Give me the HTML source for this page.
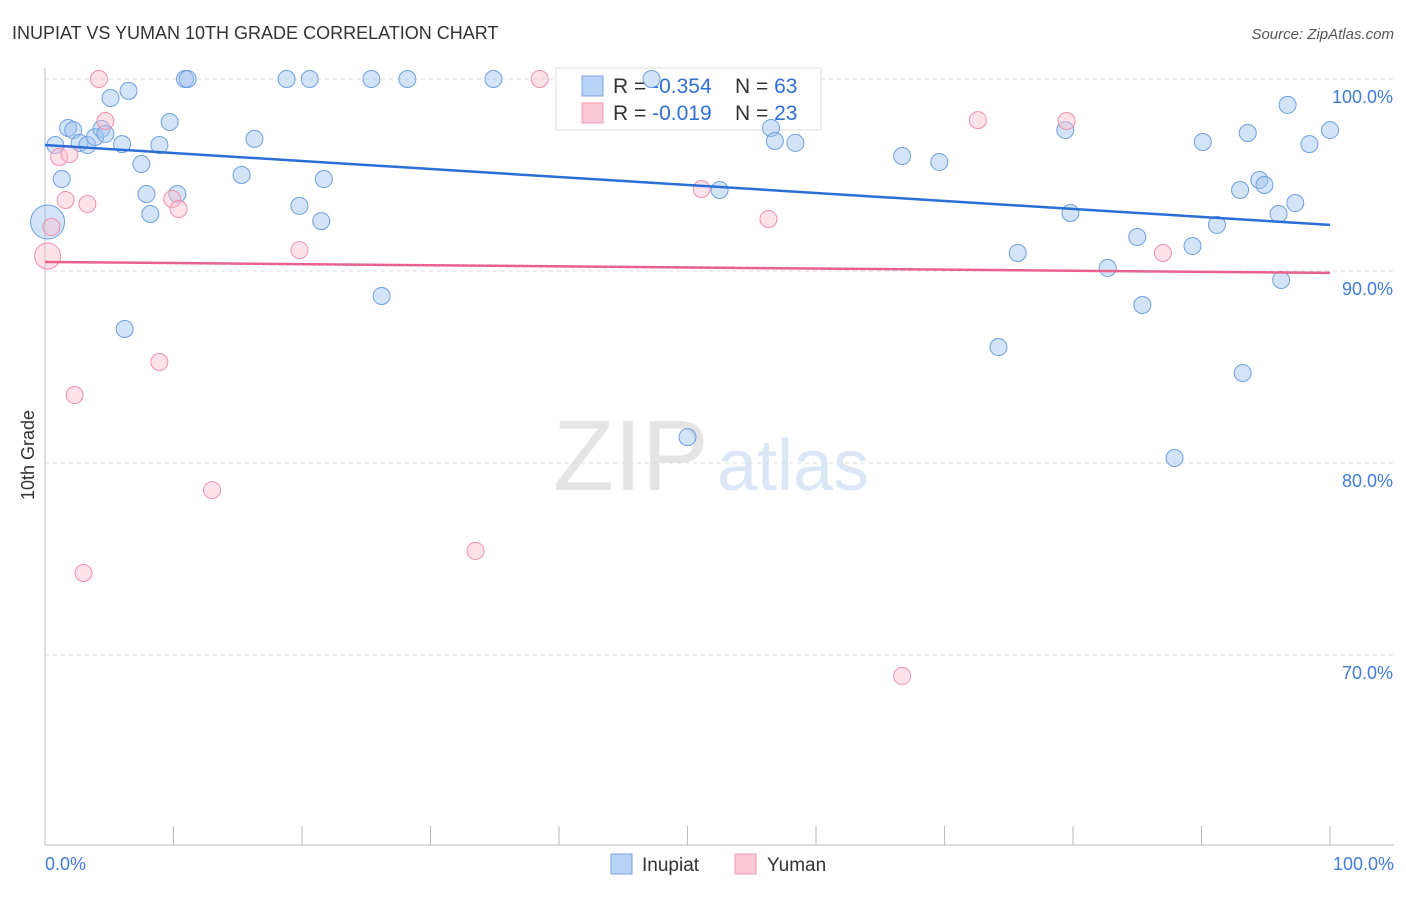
<!DOCTYPE html>
<html><head><meta charset="utf-8">
<style>
body{margin:0;background:#fff;font-family:"Liberation Sans",sans-serif;}
svg text{font-family:"Liberation Sans",sans-serif;}
</style></head>
<body>
<svg id="chart" width="1406" height="892" xmlns="http://www.w3.org/2000/svg">
<text x="12" y="39" font-size="18" fill="#333">INUPIAT VS YUMAN 10TH GRADE CORRELATION CHART</text>
<text x="1394" y="39" font-size="15" fill="#555" font-style="italic" text-anchor="end">Source: ZipAtlas.com</text>
<text x="553" y="490" font-size="100" fill="#e4e4e4" font-family="Liberation Serif">ZIP</text>
<text x="717" y="490" font-size="72" fill="#dbe7f6">atlas</text>
<g id="grid"></g>
<g id="axes"></g>
<g>
<rect x="556" y="68" width="265" height="62" fill="#fff" stroke="#ddd"/>
<rect x="582" y="76" width="21" height="20" fill="#b8d3f5" stroke="#7aa6e0"/>
<rect x="582" y="103" width="21" height="20" fill="#fcc8d6" stroke="#f09ab3"/>
<text x="613" y="93" font-size="21" fill="#333">R = <tspan fill="#2f6fd6">-0.354</tspan></text>
<text x="735" y="93" font-size="21" fill="#333">N = <tspan fill="#2f6fd6">63</tspan></text>
<text x="613" y="120" font-size="21" fill="#333">R = <tspan fill="#2f6fd6"> -0.019</tspan></text>
<text x="735" y="120" font-size="21" fill="#333">N = <tspan fill="#2f6fd6">23</tspan></text>
</g>
<g id="marks"></g>
<text transform="translate(34,455) rotate(-90)" font-size="18" fill="#333" text-anchor="middle">10th Grade</text>
<g>
<rect x="611" y="854" width="21" height="20" fill="#b8d3f5" stroke="#7aa6e0"/>
<text x="642" y="871" font-size="19" fill="#333">Inupiat</text>
<rect x="735" y="854" width="21" height="20" fill="#fcc8d6" stroke="#f09ab3"/>
<text x="767" y="871" font-size="19" fill="#333">Yuman</text>
</g>
</svg>
<script>
const inupiatX=[0.2,0.8,1.3,1.8,2.2,2.7,3.3,3.9,4.4,4.7,5.1,6.0,6.5,6.2,7.5,7.9,8.2,8.9,9.7,10.3,10.9,11.1,15.3,16.3,18.8,19.8,20.6,21.5,21.7,25.4,26.2,28.2,34.9,47.2,50.0,52.5,56.5,56.8,58.4,66.7,69.6,74.2,75.7,79.4,79.8,82.7,85.0,85.4,87.9,89.3,90.1,91.2,93.0,93.2,93.6,94.5,94.9,96.0,96.2,96.7,97.3,98.4,100];
const inupiatY=[92.55,96.56,94.79,97.45,97.34,96.67,96.56,96.98,97.40,97.14,99.01,96.61,99.38,86.98,95.57,94.01,92.97,96.56,97.76,94.01,100,100,95.0,96.88,100,93.39,100,92.6,94.79,100,88.7,100,100,100,81.35,94.22,97.45,96.77,96.67,95.99,95.68,86.04,90.94,97.34,93.02,90.16,91.77,88.23,80.26,91.30,96.72,92.40,94.22,84.69,97.19,94.74,94.48,92.97,89.53,98.65,93.54,96.61,97.34];
const yumanX=[0.2,0.5,1.1,1.6,1.9,2.3,3.0,3.3,4.2,4.7,8.9,9.9,10.4,13.0,19.8,33.5,38.5,51.1,56.3,66.7,72.6,79.5,87.0];
const yumanY=[90.78,92.29,95.94,93.70,96.09,83.54,74.27,93.49,100,97.81,85.26,93.75,93.23,78.59,91.09,75.42,100,94.27,92.71,68.91,97.86,97.81,90.94];
const inupiatTrend=[96.56,92.4];
const yumanTrend=[90.47,89.9];
const yTicks=[100,90,80,70];
const yTickLabels=["100.0%","90.0%","80.0%","70.0%"];
const xTickLabels=["0.0%","100.0%"];

const NS="http://www.w3.org/2000/svg";
const xs=v=>45+v*12.85;
const ys=v=>79+(100-v)*19.2;
function mk(tag,attrs,parent){const e=document.createElementNS(NS,tag);for(const k in attrs)e.setAttribute(k,attrs[k]);parent.appendChild(e);return e;}
const grid=document.getElementById('grid'),axes=document.getElementById('axes'),marks=document.getElementById('marks');
yTicks.forEach((t,i)=>{
  const l=mk('line',{x1:45,x2:1394,y1:ys(t),y2:ys(t),stroke:'#ddd','stroke-dasharray':'4,4'},grid);
  
  
  const tx=mk('text',{x:1393,y:ys(t)+24,'font-size':18,fill:'#3f7bd9','text-anchor':'end'},axes);
  tx.textContent=yTickLabels[i];
  
  
});
const ya=mk('line',{x1:45,x2:45,y1:68,y2:845,stroke:'#bbb'},axes);


const xa=mk('line',{x1:45,x2:1394,y1:845,y2:845,stroke:'#bbb'},axes);


for(let i=0;i<=10;i++){
  const t=mk('line',{x1:xs(i*10),x2:xs(i*10),y1:826,y2:845,stroke:'#bbb'},axes);
  
  
}
[[0,'start',45],[1,'end',1394]].forEach(([i,a,x])=>{
  const t=mk('text',{x:x,y:870,'font-size':18,fill:'#3f7bd9','text-anchor':a},axes);
  t.textContent=xTickLabels[i];
  
  
});
inupiatX.forEach((x,i)=>{
  const c=mk('circle',{cx:xs(x),cy:ys(inupiatY[i]),r:i===0?17:8.5,fill:'rgba(160,196,240,0.45)',stroke:'#6d9fe0','stroke-width':1},marks);
  
  
});
yumanX.forEach((x,i)=>{
  const c=mk('circle',{cx:xs(x),cy:ys(yumanY[i]),r:i===0?13:8.5,fill:'rgba(250,190,208,0.45)',stroke:'#f08fac','stroke-width':1},marks);
  
  
});
const bl=mk('line',{x1:xs(0),x2:xs(100),y1:ys(inupiatTrend[0]),y2:ys(inupiatTrend[1]),stroke:'#2a6fd6','stroke-width':2.5},marks);


const pl=mk('line',{x1:xs(0),x2:xs(100),y1:ys(yumanTrend[0]),y2:ys(yumanTrend[1]),stroke:'#e8628c','stroke-width':2.5},marks);


</script>
</body></html>
